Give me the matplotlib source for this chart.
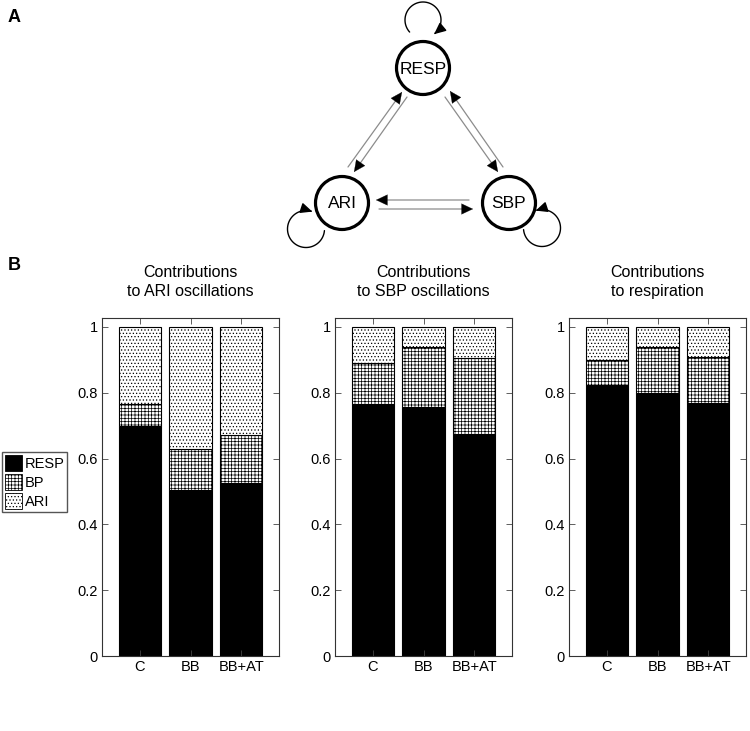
import matplotlib
matplotlib.use("Agg")
import matplotlib.pyplot as plt
from matplotlib.patches import Patch, Circle, FancyArrowPatch
from matplotlib.path import Path
import numpy as np

plt.rcParams['font.family'] = ['Liberation Sans', 'DejaVu Sans']
plt.rcParams['hatch.linewidth'] = 0.5

# ---------------- data ----------------
conditions = ["C", "BB", "BB+AT"]
components = ["RESP", "BP", "ARI"]
titles = ["Contributions\nto ARI oscillations",
          "Contributions\nto SBP oscillations",
          "Contributions\nto respiration"]
# fraction of each component per condition (RESP, BP, ARI) for each panel
ari_resp = [0.700, 0.505, 0.527]
ari_bp = [0.065, 0.125, 0.143]
ari_ari = [0.235, 0.370, 0.330]

sbp_resp = [0.765, 0.757, 0.675]
sbp_bp = [0.125, 0.183, 0.230]
sbp_ari = [0.110, 0.060, 0.095]

rsp_resp = [0.822, 0.800, 0.770]
rsp_bp = [0.078, 0.140, 0.140]
rsp_ari = [0.100, 0.060, 0.090]

panels = [(ari_resp, ari_bp, ari_ari),
          (sbp_resp, sbp_bp, sbp_ari),
          (rsp_resp, rsp_bp, rsp_ari)]
yticks = [0, 0.2, 0.4, 0.6, 0.8, 1]
ytick_labels = ["0", "0.2", "0.4", "0.6", "0.8", "1"]

W, H = 750, 731
fig = plt.figure(figsize=(W / 100, H / 100), dpi=100)

styles = [dict(facecolor="black", hatch=None),
          dict(facecolor="white", hatch="+++++"),
          dict(facecolor="white", hatch=".....")]

lefts = [102, 335, 569]
axw = 177
top_px, bot_px = 318, 656
FS = 10.5
for i, (vals, title) in enumerate(zip(panels, titles)):
    ax = fig.add_axes([lefts[i] / W, 1 - bot_px / H, axw / W, (bot_px - top_px) / H])
    x = np.arange(1, len(conditions) + 1)
    bottom = np.zeros(len(conditions))
    for v, st in zip(vals, styles):
        ax.bar(x, v, width=0.83, bottom=bottom, color=st["facecolor"],
               edgecolor="black", linewidth=0.8, hatch=st["hatch"])
        bottom = bottom + np.array(v)
    ax.set_xlim(0.26, 3.74)
    ax.set_ylim(0, 1.027)
    ax.set_xticks(x)
    ax.set_xticklabels(conditions, fontsize=FS)
    ax.set_yticks(yticks)
    ax.set_yticklabels(ytick_labels, fontsize=FS)
    ax.tick_params(direction="in", top=True, right=True, length=4, width=0.6,
                   color="#444444", pad=3)
    for s in ax.spines.values():
        s.set_linewidth(0.8)
        s.set_color("#333333")
    ax.set_title(title, fontsize=11.5, pad=16, linespacing=1.3)

# legend
handles = [Patch(facecolor="black", edgecolor="black", linewidth=0.6),
           Patch(facecolor="white", edgecolor="black", hatch="+++++", linewidth=0.6),
           Patch(facecolor="white", edgecolor="black", hatch=".....", linewidth=0.6)]
fig.legend(handles, components, loc="upper left",
           bbox_to_anchor=(2 / W, 1 - 452 / H), fontsize=10.5,
           handlelength=1.2, handleheight=1.3, handletextpad=0.15,
           borderpad=0.2, labelspacing=0.22, borderaxespad=0,
           fancybox=False, edgecolor="#555555", framealpha=1)

# panel labels
fig.text(8 / W, 1 - 18 / H, "A", fontsize=13, fontweight="bold", va="center")
fig.text(8 / W, 1 - 266 / H, "B", fontsize=13, fontweight="bold", va="center")

# ---------------- panel A diagram ----------------
axd = fig.add_axes([0, 1 - 250 / H, 1, 250 / H])
axd.set_xlim(0, W)
axd.set_ylim(250, 0)
axd.axis("off")

nodes = {"RESP": (423, 68), "ARI": (342, 203), "SBP": (509, 203)}
R = 26.5
for name, (cx, cy) in nodes.items():
    axd.add_patch(Circle((cx, cy), R, facecolor="white", edgecolor="black", lw=2.3, zorder=3))
    axd.text(cx, cy + 1, name, ha="center", va="center", fontsize=12.5, zorder=4)

def arrow(p0, p1):
    p0 = np.array(p0, float)
    p1 = np.array(p1, float)
    u = (p1 - p0) / np.hypot(*(p1 - p0))
    a = FancyArrowPatch(tuple(p0), tuple(p1 - 6 * u), arrowstyle="-",
                        color="#8c8c8c", lw=0.9, shrinkA=0, shrinkB=0)
    axd.add_patch(a)
    b = FancyArrowPatch(tuple(p1 - 9 * u), tuple(p1),
                        arrowstyle="-|>,head_length=8,head_width=3.8",
                        mutation_scale=1, facecolor="black", edgecolor="black",
                        lw=0.2, shrinkA=0, shrinkB=0)
    axd.add_patch(b)

# RESP <-> ARI
arrow((348, 167), (402, 92))
arrow((407, 97), (354, 172))
# RESP <-> SBP
arrow((445, 97), (498, 172))
arrow((503, 167), (450, 91))
# ARI <-> SBP
arrow((469, 200), (376, 200))
arrow((379, 209), (473, 209))

def loop(center, r, a0, a1):
    cx, cy = center
    a = np.radians(np.linspace(a0, a1, 80))
    verts = np.column_stack([cx + r * np.cos(a), cy - r * np.sin(a)])
    p = FancyArrowPatch(path=Path(verts),
                        arrowstyle="-|>,head_length=7,head_width=3.2",
                        mutation_scale=1, color="black", lw=1.0,
                        shrinkA=0, shrinkB=0)
    axd.add_patch(p)

# self loops (screen angles, counter-clockwise positive)
loop((423, 20), 18, 222, -52)
loop((306, 229), 18.5, -5, -290)
loop((542, 228), 18.5, 185, 470)

fig.savefig("out.png", dpi=100)
